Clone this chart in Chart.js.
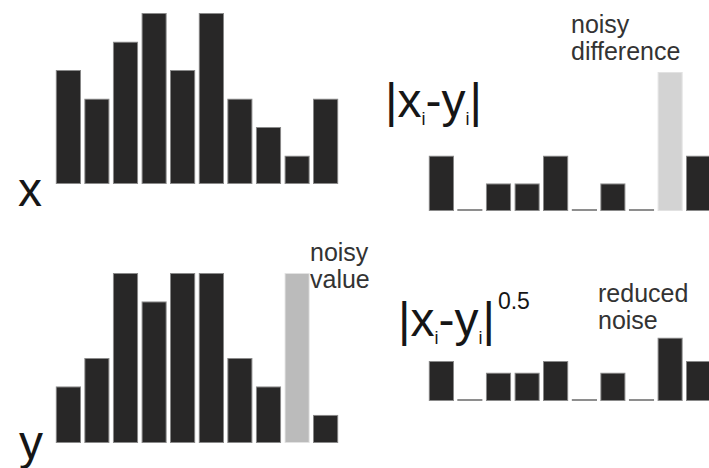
<!DOCTYPE html>
<html>
<head>
<meta charset="utf-8">
<script src="https://cdn.jsdelivr.net/npm/chart.js@4.4.1/dist/chart.umd.min.js"></script>
<style>
    html, body {
        margin: 0;
        padding: 0;
        width: 709px;
        height: 468px;
        overflow: hidden;
        background: #ffffff;
        font-family: "Liberation Sans", Arial, sans-serif;
    }
    main {
        position: relative;
        width: 709px;
        height: 468px;
        overflow: hidden;
    }
    canvas {
        position: absolute;
    }
    .label {
        position: absolute;
        white-space: nowrap;
        color: #161616;
    }
    .big { font-size: 48px; line-height: 48px; }
    .formula { font-size: 48px; line-height: 48px; }
    .formula sub { font-size: 18px; vertical-align: -8px; line-height: 0; }
    .formula sup { font-size: 23px; vertical-align: 27px; line-height: 0; margin-left: 3px; }
    .note { font-size: 25px; line-height: 27px; color: #333333; }
</style>
</head>
<body>
<main>
    <div class="label big" style="left:18px; top:166px;">x</div>
    <div class="label big" style="left:19px; top:419px;">y</div>
    <div class="label formula" style="left:385px; top:77px;">|x<sub>i</sub>-y<sub>i</sub>|</div>
    <div class="label formula" style="left:398px; top:296px;">|x<sub>i</sub>-y<sub>i</sub>|<sup>0.5</sup></div>
    <div class="label note" style="left:571px; top:11px;">noisy<br>difference</div>
    <div class="label note" style="left:310px; top:239px;">noisy<br>value</div>
    <div class="label note" style="left:598px; top:280px;">reduced<br>noise</div>
</main>
<script>
// Four small bar panels: x, y, |x-y| and |x-y|^0.5
const categories = ['1', '2', '3', '4', '5', '6', '7', '8', '9', '10'];
const xValues = [4, 3, 5, 6, 4, 6, 3, 2, 1, 3];
const yValues = [2, 3, 6, 5, 6, 6, 3, 2, 6, 1];
const diffValues = [2, 0, 1, 1, 2, 0, 1, 0, 5, 2];
const sqrtDiffValues = [1.41, 0, 1, 1, 1.41, 0, 1, 0, 2.24, 1.41];
const noisyIndex = 8;

document.addEventListener('DOMContentLoaded', function () {
    const main = document.querySelector('main');

    function makePanel(left, top, width, height, values, yMax, highlight) {
        const canvas = document.createElement('canvas');
        canvas.width = width;
        canvas.height = height;
        canvas.style.left = left + 'px';
        canvas.style.top = top + 'px';
        canvas.style.width = width + 'px';
        canvas.style.height = height + 'px';
        main.appendChild(canvas);

        new Chart(canvas, {
            type: 'bar',
            data: {
                labels: categories,
                datasets: [{
                    data: values,
                    backgroundColor: function (ctx) {
                        if (ctx.raw === 0) return '#8e8e8e';
                        if (highlight && ctx.dataIndex === noisyIndex) return highlight;
                        return '#282727';
                    },
                    borderColor: function (ctx) {
                        if (ctx.raw === 0) return '#8e8e8e';
                        if (highlight && ctx.dataIndex === noisyIndex) return '#e2e2e2';
                        return '#8a8a8a';
                    },
                    borderWidth: 1,
                    borderSkipped: false,
                    minBarLength: 2,
                    barPercentage: 0.89,
                    categoryPercentage: 1
                }]
            },
            options: {
                responsive: false,
                animation: false,
                devicePixelRatio: 1,
                layout: { padding: 4 },
                plugins: {
                    legend: { display: false },
                    tooltip: { enabled: false }
                },
                scales: {
                    x: { display: false, grid: { display: false } },
                    y: { display: false, min: 0, max: yMax, grid: { display: false } }
                }
            }
        });
    }

    makePanel(50, 9, 294, 179, xValues, 6, null);
    makePanel(50, 269, 294, 178, yValues, 6, '#bbbbbb');
    makePanel(423, 68, 294, 147, diffValues, 5, '#d3d3d3');
    makePanel(423, 326, 294, 79, sqrtDiffValues, 2.5, null);
});
</script>
</body>
</html>
